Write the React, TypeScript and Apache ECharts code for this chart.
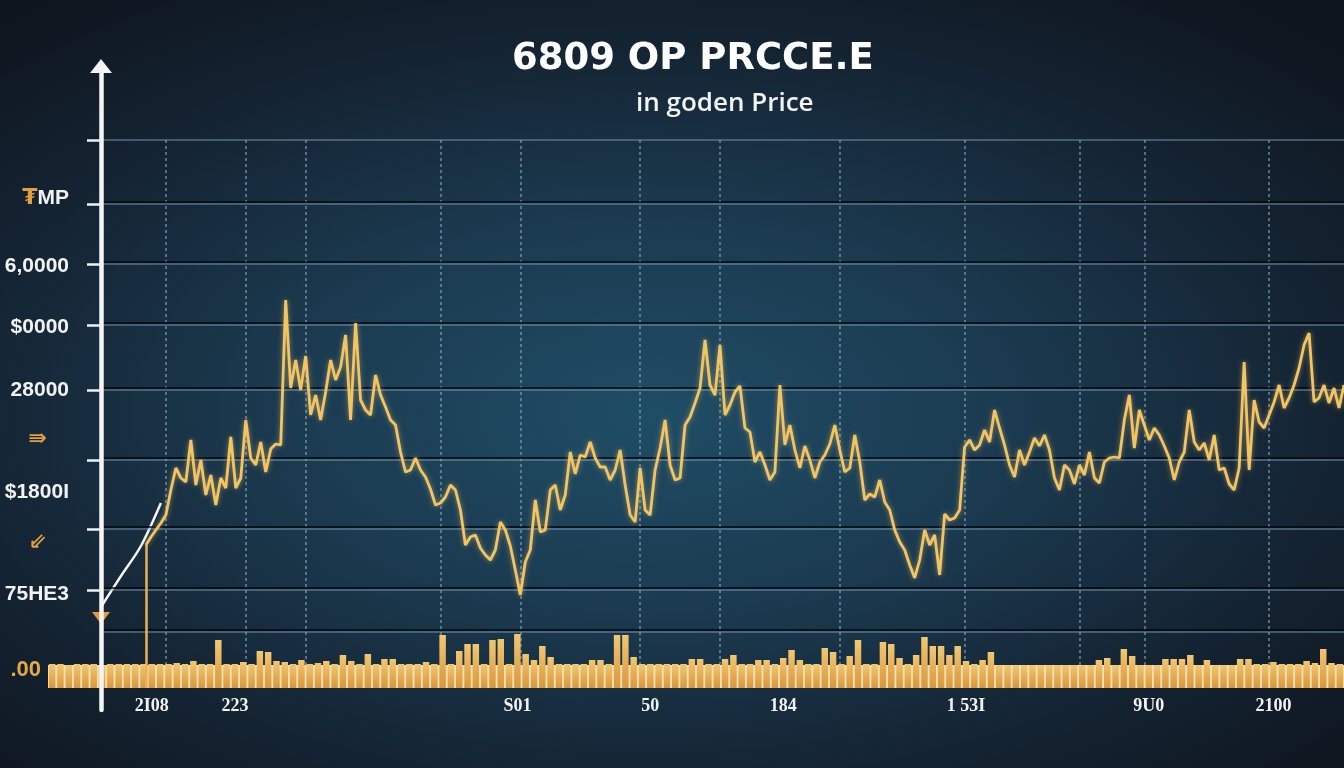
import React, { useEffect, useRef } from 'react';
import * as echarts from 'echarts';

const titleText = '6809 OP PRCCE.E';
const subtitleText = 'in goden Price';

// price line: category index 0..249, values start at index 9
const priceLeadGap = [null, null, null, null, null, null, null, null, null];
const priceValues = [
  286, 302, 316, 330, 346, 396, 440, 420, 412, 496,
  406, 456, 386, 426, 366, 420, 400, 502, 400, 420,
  536, 460, 446, 492, 432, 478, 488, 486, 776, 600,
  656, 596, 664, 546, 586, 536, 592, 656, 616, 642,
  706, 536, 730, 576, 556, 546, 626, 586, 562, 536,
  526, 472, 432, 436, 460, 436, 422, 398, 366, 370,
  382, 406, 396, 356, 286, 302, 306, 280, 266, 256,
  276, 332, 316, 284, 236, 186, 252, 276, 376, 312,
  316, 396, 406, 356, 386, 472, 428, 466, 462, 492,
  460, 442, 442, 416, 436, 476, 406, 346, 332, 440,
  356, 346, 436, 480, 536, 446, 416, 420, 526, 542,
  570, 600, 696, 606, 586, 686, 546, 566, 592, 604,
  520, 512, 452, 472, 446, 416, 432, 606, 486, 526,
  476, 440, 484, 456, 420, 452, 466, 488, 526, 476,
  432, 440, 506, 452, 376, 388, 382, 416, 372, 356,
  316, 292, 276, 246, 220, 256, 316, 286, 306, 226,
  348, 336, 340, 356, 482, 496, 476, 486, 516, 492,
  556, 520, 486, 446, 422, 476, 446, 472, 500, 484,
  506, 476, 420, 396, 446, 436, 408, 446, 426, 472,
  420, 410, 452, 460, 462, 460, 536, 586, 480, 556,
  526, 496, 520, 506, 484, 460, 416, 452, 472, 556,
  492, 476, 490, 456, 506, 436, 440, 408, 396, 440,
  652, 436, 576, 532, 520, 546, 572, 606, 560, 580,
  606, 640, 686, 710, 572, 580, 606, 570, 600, 560,
  606,
];
const guideValues = [162, null, null, null, 224, null, null, null, 284, null, null, null, 370];
const priceDropIndex = 9;
const markerValue = 140;

// volume bars
const volumeValues = [
  24, 24, 23, 24, 24, 24, 23, 24, 24, 24, 24, 24,
  24, 24, 24, 25, 24, 27, 24, 24, 48, 24, 24, 26,
  24, 37, 36, 27, 26, 24, 28, 24, 25, 27, 24, 33,
  27, 24, 34, 24, 29, 29, 24, 24, 24, 26, 24, 53,
  24, 37, 44, 44, 24, 48, 49, 24, 54, 34, 28, 42,
  31, 24, 24, 24, 24, 28, 28, 24, 53, 53, 31, 24,
  24, 24, 24, 24, 24, 29, 29, 24, 24, 29, 33, 24,
  24, 28, 28, 24, 30, 38, 28, 24, 24, 40, 36, 24,
  32, 48, 24, 24, 46, 44, 30, 24, 33, 51, 42, 42,
  33, 42, 27, 24, 28, 36, 23, 23, 23, 23, 23, 23,
  23, 23, 23, 23, 23, 23, 28, 30, 23, 39, 32, 23,
  23, 23, 29, 29, 29, 33, 23, 28, 23, 23, 23, 29,
  29, 24, 24, 26, 24, 24, 24, 27, 25, 39, 25, 24,
];
const volumeBand = 23;

// axes
const yTickValues = [1096, 968, 848, 726, 596, 456, 318, 196];
const yGridLevels = [1096, 968, 848, 726, 596, 456, 318, 196, 112];
const yLabelValues = [984, 848, 726, 600, 502, 396, 296, 192, 40];
const yLabelTexts = ['{o|₮}{w|MP}', '{w|6,0000}', '{w|$0000}', '{w|28000}', '{oi|⇛}', '{w|$1800I}', '{oi|⇙}', '{w|75HE3}', '{od|.00}'];
const vGridIdx = [13, 29, 41, 68, 84, 108, 124, 148, 173, 196, 209, 234];
const xLabelIdx = [12, 22, 56, 72, 88, 110, 132, 147];
const xLabelTexts = ['2I08', '223', 'S01', '50', '184', '1 53I', '9U0', '2100'];

const priceData = [...priceLeadGap, ...priceValues];
const priceDays = priceData.map((_, i) => String(i));
const volumeDays = volumeValues.map((_, i) => String(i));

export default function App() {
  const ref = useRef<HTMLDivElement>(null);
  useEffect(() => {
    if (!ref.current) return;
    const chart = echarts.init(ref.current, null, { renderer: 'svg' });
    const labelFont = "'Liberation Sans', 'DejaVu Sans', sans-serif";
    const gridShadowOffset = 4; // value units, ~2px
    const option: any = {
      animation: false,
      backgroundColor: 'transparent',
      title: [
        { text: titleText, left: 507, top: 33, textStyle: { color: '#ffffff', fontSize: 37, fontWeight: 700, fontFamily: "'DejaVu Sans', sans-serif" } },
        { text: subtitleText, left: 631, top: 83, textStyle: { color: '#f3f3f3', fontSize: 26, fontWeight: 600, fontFamily: 'Open Sans' } },
      ],
      grid: [
        { left: 101, top: 66, width: 20, height: 644 },
        { left: 101, right: 0, top: 140, height: 548 },
        { left: 48, right: 0, top: 620, height: 68 },
      ],
      xAxis: [
        { gridIndex: 0, type: 'value', min: 0, max: 1, show: false },
        {
          gridIndex: 1, type: 'category', data: priceDays, boundaryGap: false,
          axisLine: { show: false }, axisTick: { show: false }, axisLabel: { show: false },
          splitLine: {
            show: true,
            interval: (i: number) => vGridIdx.includes(i),
            lineStyle: { color: 'rgba(140,172,196,0.55)', width: 2, type: [3, 3] },
          },
        },
        {
          gridIndex: 2, type: 'category', data: volumeDays,
          axisLine: { show: false }, axisTick: { show: false },
          axisLabel: {
            interval: (i: number) => xLabelIdx.includes(i),
            formatter: (v: string) => {
              const k = xLabelIdx.indexOf(Number(v));
              return k >= 0 ? xLabelTexts[k] : '';
            },
            color: '#f2f2f2', fontSize: 18, fontFamily: "'Liberation Serif', serif", fontWeight: 600, margin: 8,
          },
          splitLine: { show: false },
        },
      ],
      yAxis: [
        {
          gridIndex: 0, type: 'value', min: -44, max: 1244, z: 10,
          axisLine: { show: true, lineStyle: { color: '#f4f4f4', width: 4.5 }, symbol: ['none', 'triangle'], symbolSize: [22, 14] },
          axisTick: { show: true, customValues: yTickValues, length: 14, lineStyle: { color: '#f0f0f0', width: 2.5 } },
          axisLabel: {
            customValues: yLabelValues, margin: 32,
            formatter: (v: number) => {
              const k = yLabelValues.indexOf(v);
              return k >= 0 ? yLabelTexts[k] : '';
            },
            rich: {
              w: { color: '#f2f2f2', fontSize: 21, fontWeight: 600, fontFamily: labelFont },
              o: { color: '#e0a040', fontSize: 22, fontWeight: 600, fontFamily: "'DejaVu Sans', sans-serif" },
              oi: { color: '#e0a040', fontSize: 22, fontWeight: 700, fontFamily: "'DejaVu Sans', sans-serif", padding: [0, 22, 0, 0] },
              od: { color: '#e6a74a', fontSize: 22, fontWeight: 600, fontFamily: labelFont, padding: [0, 28, 0, 0] },
            },
          },
          splitLine: { show: false },
        },
        { gridIndex: 1, type: 'value', min: 0, max: 1096, show: false, splitLine: { show: false } },
        { gridIndex: 2, type: 'value', min: 0, max: 68, show: false, splitLine: { show: false } },
      ],
      series: [
        {
          name: 'gridShadow', type: 'line', xAxisIndex: 1, yAxisIndex: 1, data: guideValues, connectNulls: true, z: 1, silent: true,
          showSymbol: false, lineStyle: { opacity: 0 },
          markLine: {
            silent: true, symbol: ['none', 'none'], label: { show: false },
            lineStyle: { color: 'rgba(3,8,14,0.75)', width: 2, type: 'solid' },
            data: yGridLevels.map((v) => ({ yAxis: v + gridShadowOffset })),
          },
        },
        {
          name: 'grid', type: 'line', xAxisIndex: 1, yAxisIndex: 1, data: guideValues, connectNulls: true, z: 1, silent: true,
          showSymbol: false, lineStyle: { opacity: 0 },
          markLine: {
            silent: true, symbol: ['none', 'none'], label: { show: false },
            lineStyle: { color: 'rgba(128,162,188,0.6)', width: 1.6, type: 'solid' },
            data: yGridLevels.map((v) => ({ yAxis: v })),
          },
        },
        {
          name: 'volume', type: 'bar', xAxisIndex: 2, yAxisIndex: 2, data: volumeValues, barCategoryGap: '22%', z: 3,
          itemStyle: {
            color: new echarts.graphic.LinearGradient(0, 0, 0, 1, [
              { offset: 0, color: '#f1c772' },
              { offset: 1, color: '#d9973c' },
            ]),
          },
          markArea: {
            silent: true,
            itemStyle: { color: '#f5dfb2' },
            data: [[{ yAxis: 0 }, { yAxis: volumeBand }]],
          },
        },
        {
          name: 'guide', type: 'line', xAxisIndex: 1, yAxisIndex: 1, data: guideValues, connectNulls: true, smooth: 0.3,
          showSymbol: false, z: 4, lineStyle: { color: '#f4f4f4', width: 2.5 },
          markPoint: {
            silent: true, symbol: 'triangle', symbolRotate: 180, symbolSize: [18, 12],
            itemStyle: { color: '#e29a3c' }, label: { show: false },
            data: [{ coord: [0, markerValue] }],
          },
        },
        {
          name: 'price', type: 'line', xAxisIndex: 1, yAxisIndex: 1, data: priceData, showSymbol: false, z: 5,
          lineStyle: { color: '#f2c462', width: 2.8, shadowColor: 'rgba(245,200,110,0.55)', shadowBlur: 5 },
          markLine: {
            silent: true, symbol: ['none', 'none'], label: { show: false },
            lineStyle: { color: '#e8b457', width: 2.5, type: 'solid' },
            data: [[{ coord: [priceDropIndex, priceValues[0]] }, { coord: [priceDropIndex, 0] }]],
          },
        },
      ],
    };
    chart.setOption(option);
    return () => chart.dispose();
  }, []);
  return (
    <div style={{ position: 'fixed', left: 0, top: 0, width: 1344, height: 768, background: 'radial-gradient(ellipse 72% 68% at 48% 54%, #1f4d66 0%, #1b3a4f 38%, #142332 72%, #0e151e 100%)' }}>
      <div ref={ref} style={{ width: 1344, height: 768 }} />
    </div>
  );
}
